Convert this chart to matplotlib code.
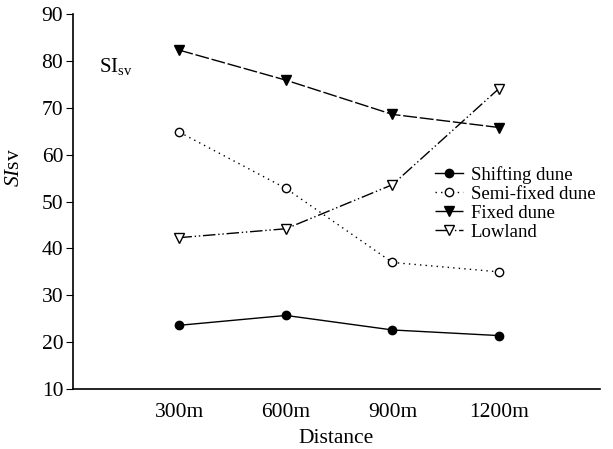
import matplotlib
matplotlib.use('Agg')
import matplotlib.pyplot as plt

# Values
distances = ['300m', '600m', '900m', '1200m']
shifting = [23.6, 25.7, 22.6, 21.4]
semi_fixed = [64.8, 52.8, 37.0, 35.0]
fixed = [82.3, 75.9, 68.6, 65.8]
lowland = [42.3, 44.2, 53.6, 74.1]

plt.rcParams['font.family'] = ['Liberation Serif', 'DejaVu Serif']
plt.rcParams['mathtext.fontset'] = 'custom'
plt.rcParams['mathtext.rm'] = 'Liberation Serif'
plt.rcParams['mathtext.it'] = 'Liberation Serif:italic'


def main():
    fig = plt.figure(figsize=(6.13, 4.49), dpi=100)
    ax = fig.add_axes([0.119, 0.1336, 0.860, 0.835])
    x = [1, 2, 3, 4]

    ax.plot(x, shifting, color='black', lw=1, ls='-', marker='o', ms=6,
            label='Shifting dune')
    ax.plot(x, semi_fixed, color='black', lw=1, ls=(0, (1, 3)), marker='o', ms=6,
            markerfacecolor='white', label='Semi-fixed dune')
    ax.plot(x, fixed, color='black', lw=1, ls=(0, (10, 2)), marker='v', ms=7,
            label='Fixed dune')
    ax.plot(x, lowland, color='black', lw=1, ls=(0, (9, 2, 1, 2, 1, 2)), marker='v', ms=7,
            markerfacecolor='white', label='Lowland')

    ax.set_xlim(0, 4.95)
    ax.set_ylim(10, 90)
    ax.set_yticks(range(10, 91, 10))
    ax.set_xticks(x)
    ax.set_xticklabels(distances)
    ax.tick_params(axis='x', length=0, labelsize=15.5, pad=10)
    ax.tick_params(axis='y', length=5, direction='out', labelsize=15.5, pad=2)
    ax.spines['top'].set_visible(False)
    ax.spines['right'].set_visible(False)
    ax.spines['left'].set_linewidth(1.2)
    ax.spines['bottom'].set_linewidth(1.2)

    ax.set_xlabel('Distance', fontsize=15.5, labelpad=5)
    ax.set_ylabel('$\\mathit{SI}$sv', fontsize=15.5)
    ax.yaxis.set_label_coords(-0.092, 0.59)
    ax.text(0.05, 0.86, '$\\mathrm{SI}_{\\mathrm{sv}}$', transform=ax.transAxes,
            fontsize=15, va='center')

    ax.legend(loc='upper left', bbox_to_anchor=(0.687, 0.595), frameon=False, fontsize=13.5,
              handlelength=1.5, handletextpad=0.4, labelspacing=0.1, borderpad=0,
              borderaxespad=0)

    fig.savefig('out.png', dpi=100)


if __name__ == "__main__": main()
